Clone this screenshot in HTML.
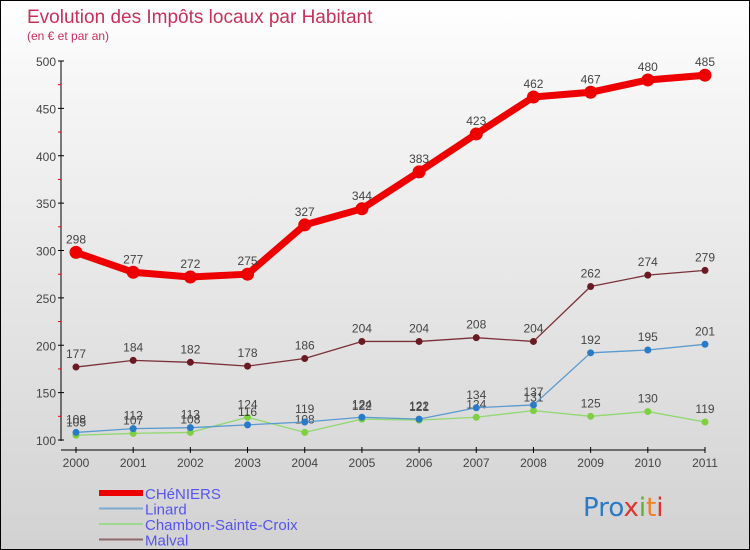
<!DOCTYPE html>
<html><head><meta charset="utf-8"><style>
body{margin:0}
#c{width:748px;height:548px;border:1px solid #000;background:linear-gradient(#fff,#f6f6f6 15%,#d2d2d2);position:relative;font-family:"Liberation Sans",sans-serif;overflow:hidden}
</style></head><body>
<div id="c">
<svg id="s" width="748" height="548" xmlns="http://www.w3.org/2000/svg"></svg>
</div>
<script>
const years=["2000","2001","2002","2003","2004","2005","2006","2007","2008","2009","2010","2011"];
const cheniers=[298,277,272,275,327,344,383,423,462,467,480,485];
const linard=[108,112,113,116,119,124,122,134,137,192,195,201];
const chambon=[105,107,108,124,108,122,121,124,131,125,130,119];
const malval=[177,184,182,178,186,204,204,208,204,262,274,279];
const yTicks=[100,150,200,250,300,350,400,450,500];
const S=document.getElementById('s'),NS='http://www.w3.org/2000/svg';
function el(t,a,txt){const e=document.createElementNS(NS,t);for(const k in a)e.setAttribute(k,a[k]);if(txt!=null)e.textContent=txt;S.appendChild(e);return e;}
const X=i=>75+i*(704-75)/11, Y=v=>439-(v-100)*(439-60)/400;
let e;
e=el('text',{x:26,y:22,fill:'#c8305a','font-size':19},'Evolution des Impôts locaux par Habitant');

e=el('text',{x:26,y:39,fill:'#c8305a','font-size':12},'(en € et par an)');

el('line',{x1:60,y1:60,x2:60,y2:440,stroke:'#000'});
el('line',{x1:60,y1:449,x2:704,y2:449,stroke:'#000'});
yTicks.forEach(v=>{el('line',{x1:57,y1:Y(v),x2:63,y2:Y(v),stroke:'#000'});
 e=el('text',{x:55,y:Y(v)+5,'text-anchor':'end','font-size':12,fill:'#444'},v);
 
 if(v<500)el('line',{x1:57,y1:Y(v+25),x2:60,y2:Y(v+25),stroke:'#e00'});});
years.forEach((y,i)=>{el('line',{x1:X(i),y1:446,x2:X(i),y2:452,stroke:'#000'});
 e=el('text',{x:X(i),y:466,'text-anchor':'middle','font-size':12,fill:'#444'},y);
 });
function series(d,col,w,r,dot,name){
 e=el('polyline',{points:d.map((v,i)=>X(i)+','+Y(v)).join(' '),fill:'none',stroke:col,'stroke-width':w,'stroke-linejoin':'round'});
 
 d.forEach((v,i)=>{e=el('circle',{cx:X(i),cy:Y(v),r:r,fill:dot});
  
  e=el('text',{x:X(i),y:Y(v)-9,'text-anchor':'middle','font-size':12,fill:'#444'},v);
  });
}
series(malval,'#7a3038',1.3,3.5,'#6a1a22','malval');
series(chambon,'#90d870',1.3,3.5,'#7ed040','chambon');
series(linard,'#5a9ad0',1.3,3.5,'#2a7ac8','linard');
series(cheniers,'#ee0000',7,6.5,'#ee0000','cheniers');
const leg=[['CHéNIERS','#ee0000',6],['Linard','#7aaad0',2],['Chambon-Sainte-Croix','#a0d890',2],['Malval','#906868',2]];
leg.forEach((l,i)=>{const y=492+i*15.5;
 e=el('line',{x1:98,y1:y,x2:142,y2:y,stroke:l[1],'stroke-width':l[2]});
 
 e=el('text',{x:144,y:y+6,'font-size':15,fill:'#5555ee'},l[0]);
 });
e=el('text',{x:582,y:515,'font-size':26,fill:'#2a7ac8','font-family':'"DejaVu Sans",sans-serif'});

[['Pro','#2a7ac8'],['x','#e03030'],['i','#60b030'],['t','#f08020'],['i','#e03030']].forEach(p=>{const t=document.createElementNS(NS,'tspan');t.setAttribute('fill',p[1]);t.textContent=p[0];e.appendChild(t);});
</script>
</body></html>
